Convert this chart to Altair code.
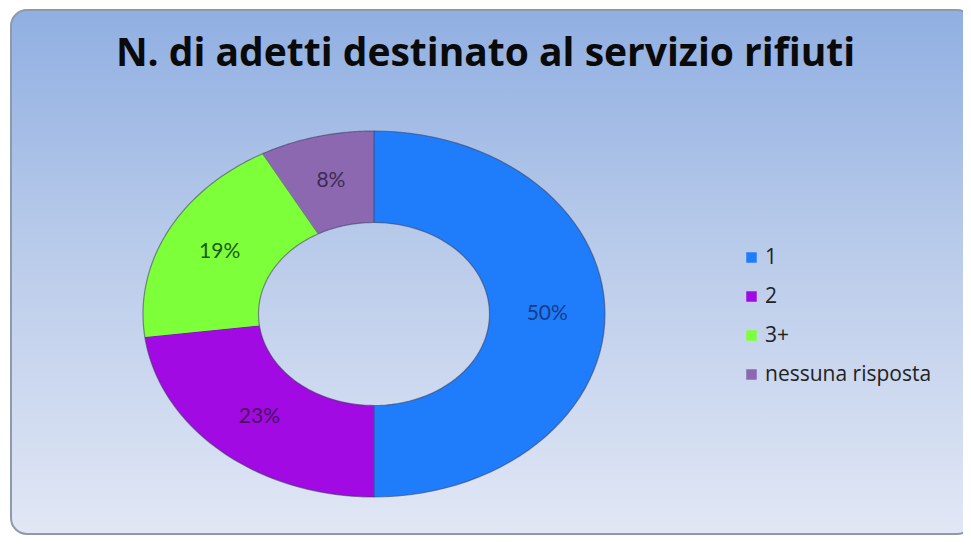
import altair as alt
import pandas as pd

# ---- data ----
categories = ["1", "2", "3+", "nessuna risposta"]
values = [50, 23, 19, 8]
slice_colors = ["#1f7cfb", "#a10ae2", "#7dff3a", "#8c68b0"]
label_colors = ["#173c86", "#48105e", "#1d5a12", "#3d2c56"]
title_text = "N. di adetti destinato al servizio rifiuti"

df = pd.DataFrame({
    "cat": categories,
    "value": values,
    "ord": list(range(len(categories))),
    "lblcolor": label_colors,
})

W, H = 955, 528
N = 60  # steps per arc
INNER = 0.5

# ellipse placement (chart coords)
cx, cy, rx, ry = 366, 306, 231, 183
xs = alt.Scale(domain=[-1, 1], range=[cx - rx, cx + rx])
ys = alt.Scale(domain=[-1, 1], range=[cy + ry, cy - ry])

base = alt.Chart(df).transform_window(
    cum="sum(value)", sort=[alt.SortField("ord")], frame=[None, 0]
).transform_joinaggregate(total="sum(value)").transform_calculate(
    a0="2*PI*(datum.cum - datum.value)/datum.total",
    a1="2*PI*datum.cum/datum.total",
)

# background panel with gradient
bg = alt.Chart(df).mark_rect(
    cornerRadius=16,
    stroke="#8c9aab",
    strokeWidth=2,
    fill=alt.Gradient(
        gradient="linear",
        x1=0, y1=0, x2=0, y2=1,
        stops=[alt.GradientStop(color="#90afe2", offset=0),
               alt.GradientStop(color="#b9cbea", offset=0.45),
               alt.GradientStop(color="#e1e7f5", offset=1)],
    ),
).encode(
    x=alt.value(3), x2=alt.value(W + 10), y=alt.value(2), y2=alt.value(H - 2)
).transform_filter("datum.ord == 0")

# donut slices as filled polygons on an elliptical frame
slices = base.transform_calculate(
    step=f"sequence(0, {2 * N + 2})"
).transform_flatten(["step"]).transform_calculate(
    outer=f"datum.step <= {N}",
    t=f"datum.step <= {N} ? datum.step/{N} : ({2 * N + 1} - datum.step)/{N}",
).transform_calculate(
    ang="datum.a0 + (datum.a1 - datum.a0)*datum.t",
    r=f"datum.outer ? 1 : {INNER}",
).transform_calculate(
    px="datum.r*sin(datum.ang)",
    py="datum.r*cos(datum.ang)",
).mark_line(strokeWidth=1.2, stroke="#3a3a5a", strokeOpacity=0.55, interpolate="linear").encode(
    x=alt.X("px:Q", scale=xs, axis=None),
    y=alt.Y("py:Q", scale=ys, axis=None),
    fill=alt.Fill(
        "cat:N",
        scale=alt.Scale(domain=categories, range=slice_colors),
        legend=alt.Legend(
            title=None,
            orient="none",
            legendX=733,
            legendY=239,
            symbolType="square",
            symbolSize=110,
            symbolStrokeWidth=0,
            labelFontSize=21,
            labelFont="Open Sans",
            labelColor="#222222",
            labelLimit=400,
            rowPadding=17,
            labelOffset=3,
        ),
    ),
    detail="cat:N",
    order=alt.Order("step:Q"),
)

labels = base.transform_calculate(
    mid="(datum.a0 + datum.a1)/2",
    pct="format(datum.value/datum.total, '.0%')",
).transform_calculate(
    lx="0.75*sin(datum.mid)",
    ly="0.75*cos(datum.mid)",
).mark_text(fontSize=21, font="Lato").encode(
    x=alt.X("lx:Q", scale=xs, axis=None),
    y=alt.Y("ly:Q", scale=ys, axis=None),
    text="pct:N",
    color=alt.Color("lblcolor:N", scale=None),
)

chart = alt.layer(bg, slices, labels).properties(
    width=W,
    height=H,
    autosize=alt.AutoSizeParams(type="none"),
    padding=0,
    background="white",
    title=alt.Title(
        title_text,
        fontSize=39,
        font="Open Sans",
        fontWeight="bold",
        color="#0a0a0a",
        anchor="middle",
        offset=-66,
    ),
).configure_view(stroke=None)

chart.save("out.html", embed_options={"renderer": "svg", "actions": False})
